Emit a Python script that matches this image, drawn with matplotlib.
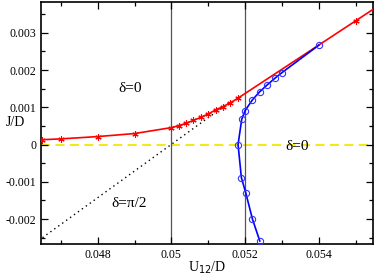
import matplotlib
matplotlib.use('Agg')
import matplotlib.pyplot as plt
from matplotlib.ticker import MultipleLocator, FuncFormatter

# red curve (asterisks)
red_x = [0.0465, 0.047, 0.048, 0.049, 0.050, 0.0502, 0.0504, 0.0506, 0.0508, 0.0510,
         0.0512, 0.0514, 0.0516, 0.0518, 0.055, 0.056]
red_y = [0.00013, 0.000152, 0.000214, 0.000295, 0.000455, 0.000508, 0.00057, 0.00065,
         0.00073, 0.00082, 0.00093, 0.00102, 0.00112, 0.00124, 0.00332, 0.00397]

# blue curve (circles)
blue_x = [0.0540, 0.0530, 0.05281, 0.0526, 0.0524, 0.0522, 0.05200, 0.05191,
          0.05181, 0.0519, 0.05202, 0.0522, 0.0524]
blue_y = [0.002666, 0.00193, 0.00178, 0.0016, 0.00142, 0.0012, 0.00091, 0.00068,
          0.0, -0.00089, -0.0013, -0.002, -0.00259]

# dotted asymptote
dot_x = [0.0465, 0.0516]
dot_y = [-0.00250, 0.00115]

vlines = [0.050, 0.052]

plt.rcParams['font.family'] = ['Liberation Serif', 'DejaVu Serif']

fig = plt.figure(figsize=(3.74, 2.8), dpi=100)
ax = fig.add_axes([0.1096, 0.1286, 0.8874, 0.866])

ax.axhline(0, color='#f5e600', lw=1.3, ls=(0, (5, 3)), zorder=1)
for v in vlines:
    ax.axvline(v, color='#555555', lw=0.9, zorder=1)
ax.plot(dot_x, dot_y, color='black', lw=1.0, ls=(0, (1, 2.5)), zorder=2)

ax.plot(red_x, red_y, color='red', lw=1.2, marker=(6, 2, 0), ms=4.5,
        mew=0.8, zorder=3)
ax.plot(blue_x, blue_y, color='blue', lw=1.2, marker='o', ms=4.5,
        mfc='none', mec='#3333ff', mew=0.8, zorder=3)

ax.set_xlim(0.04646, 0.05547)
ax.set_ylim(-0.00267, 0.00384)

ax.xaxis.set_major_locator(MultipleLocator(0.002))
ax.xaxis.set_minor_locator(MultipleLocator(0.001))
ax.yaxis.set_major_locator(MultipleLocator(0.001))
ax.yaxis.set_minor_locator(MultipleLocator(0.0005))
fmt = FuncFormatter(lambda v, p: '%g' % round(v, 6))
ax.xaxis.set_major_formatter(fmt)
ax.yaxis.set_major_formatter(fmt)

ax.tick_params(which='both', direction='in', top=True, right=True,
               labelsize=8.5, width=0.9)
ax.tick_params(which='major', length=5)
ax.tick_params(which='minor', length=3)
for s in ax.spines.values():
    s.set_linewidth(1.2)

fig.text(207 / 374, 1 - 268 / 280, 'U$_{12}$/D', fontsize=10, ha='center', va='center')
fig.text(15 / 374, 1 - 123 / 280, 'J/D', fontsize=10, ha='center', va='center')

ax.text(0.04888, 0.00151, 'δ=0', fontsize=11, ha='center', va='center')
ax.text(0.0534, -0.00005, 'δ=0', fontsize=11, ha='center', va='center')
ax.text(0.04886, -0.00158, 'δ=π/2', fontsize=11, ha='center', va='center')

fig.savefig('out.png', dpi=100)
